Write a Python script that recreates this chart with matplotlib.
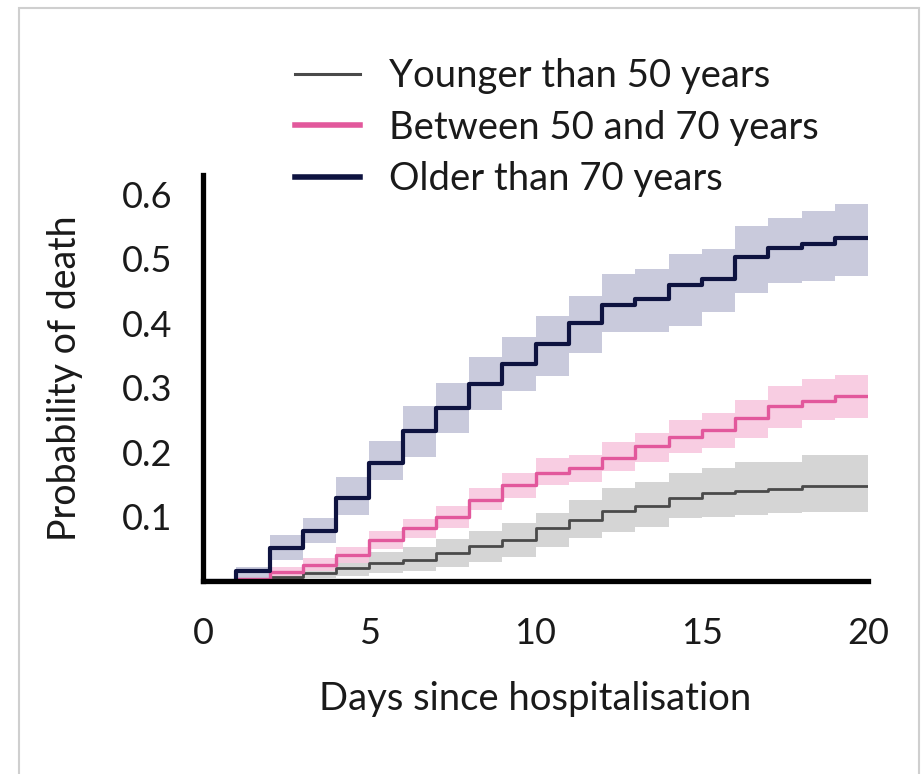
import matplotlib
matplotlib.use("Agg")
import matplotlib.pyplot as plt
from matplotlib.patches import Rectangle
import numpy as np

plt.rcParams['font.family'] = ['Lato', 'DejaVu Sans']

# cumulative probability of death per day since admission (step function)
days = list(range(20))
end_day = 20

under50 = [0, 0.002, 0.006, 0.012, 0.020, 0.028, 0.033, 0.043, 0.055, 0.064,
           0.082, 0.095, 0.108, 0.116, 0.129, 0.136, 0.140, 0.142, 0.148, 0.148]
under50_lo = [0, 0, 0, 0.004, 0.008, 0.012, 0.016, 0.022, 0.030, 0.037,
              0.053, 0.067, 0.076, 0.084, 0.098, 0.100, 0.103, 0.106, 0.107, 0.107]
under50_hi = [0, 0.005, 0.015, 0.025, 0.035, 0.045, 0.052, 0.065, 0.078, 0.090,
              0.106, 0.126, 0.145, 0.154, 0.168, 0.176, 0.185, 0.185, 0.196, 0.196]

mid = [0, 0.003, 0.0145, 0.025, 0.040, 0.064, 0.082, 0.100, 0.126, 0.149,
       0.167, 0.175, 0.191, 0.209, 0.224, 0.235, 0.253, 0.272, 0.279, 0.287]
mid_lo = [0, 0, 0.007, 0.015, 0.028, 0.050, 0.066, 0.083, 0.110, 0.129,
          0.149, 0.154, 0.170, 0.185, 0.199, 0.207, 0.222, 0.238, 0.250, 0.253]
mid_hi = [0, 0.008, 0.022, 0.035, 0.052, 0.077, 0.096, 0.116, 0.145, 0.168,
          0.191, 0.196, 0.215, 0.230, 0.250, 0.261, 0.281, 0.302, 0.313, 0.320]

over70 = [0, 0.015, 0.051, 0.077, 0.129, 0.183, 0.232, 0.269, 0.305, 0.336,
          0.367, 0.401, 0.429, 0.437, 0.459, 0.468, 0.502, 0.516, 0.523, 0.533]
over70_lo = [0, 0, 0.033, 0.059, 0.103, 0.157, 0.193, 0.230, 0.266, 0.295,
             0.318, 0.354, 0.386, 0.386, 0.395, 0.417, 0.447, 0.463, 0.465, 0.473]
over70_hi = [0, 0.022, 0.072, 0.097, 0.162, 0.217, 0.271, 0.308, 0.347, 0.378,
             0.411, 0.442, 0.476, 0.484, 0.507, 0.515, 0.551, 0.564, 0.574, 0.585]

labels = ['Younger than 50 years', 'Between 50 and 70 years', 'Older than 70 years']
yticks = [0.1, 0.2, 0.3, 0.4, 0.5, 0.6]
xticks = [0, 5, 10, 15, 20]


def ext(vals):
    # repeat last value so the final step reaches the end of the axis
    return np.array(list(vals) + [vals[-1]])


x = np.array(days + [end_day])

fig = plt.figure(figsize=(9.22, 7.74), dpi=100)
ax = fig.add_axes([203 / 922, 1 - 581 / 774, 665 / 922, 406 / 774])

groups = [
    (under50, under50_lo, under50_hi, '#4a4a4a', '#d1d1d1', 2.0, 2.2),
    (mid, mid_lo, mid_hi, '#e2589c', '#f8c8df', 2.4, 4.0),
    (over70, over70_lo, over70_hi, '#0e1340', '#c3c5d9', 3.0, 4.0),
]

handles = []
for (y, lo, hi, lc, fc, lw, hlw), lab in zip(groups, labels):
    ax.fill_between(x, ext(lo), ext(hi), step='post', color=fc, alpha=0.9, lw=0)
for (y, lo, hi, lc, fc, lw, hlw), lab in zip(groups, labels):
    ax.step(x, ext(y), where='post', color=lc, lw=lw)
    handles.append(plt.Line2D([], [], color=lc, lw=hlw, label=lab))

ax.set_xlim(0, 20)
ax.set_ylim(0, 0.63)
ax.set_xticks(xticks)
ax.set_yticks(yticks)
ax.set_yticklabels([f'{v:.1f}' for v in yticks])
ax.tick_params(length=0, labelsize=26, colors='#1a1a1a')
ax.tick_params(axis='y', pad=22)
ax.tick_params(axis='x', pad=26)

for s in ['top', 'right']:
    ax.spines[s].set_visible(False)
for s in ['left', 'bottom']:
    ax.spines[s].set_linewidth(3.8)
    ax.spines[s].set_color('black')
    ax.spines[s].set_capstyle('projecting')

ax.set_xlabel('Days since hospitalisation', fontsize=27.5, labelpad=22, color='#1a1a1a')
ax.set_ylabel('Probability of death', fontsize=27, labelpad=28, color='#1a1a1a')

fig.legend(handles=handles, loc='upper left', bbox_to_anchor=(261 / 922, 1 - 24 / 774),
           frameon=False, fontsize=27.5, handlelength=1.7, handletextpad=0.75,
           labelspacing=0.4, labelcolor='#1a1a1a')

# thin grey frame around the figure
fig.add_artist(Rectangle((19 / 922, -0.05), 900 / 922, 1.05 - 8 / 774,
                         transform=fig.transFigure, fill=False,
                         edgecolor='#cfcfcf', lw=1.5))

fig.savefig('out.png', dpi=100)
